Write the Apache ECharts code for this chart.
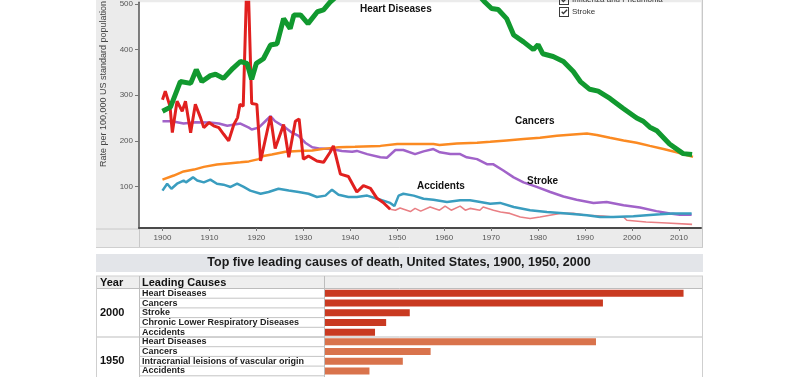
<!DOCTYPE html>
<html>
<head>
<meta charset="utf-8">
<style>
  html, body { margin: 0; padding: 0; background: #fff; }
  #chart { width: 800px; height: 377px; }
</style>
<script src="https://cdn.jsdelivr.net/npm/echarts@6.0.0/dist/echarts.min.js"></script>
</head>
<body>
<div id="chart"></div>
<script>
// rates per 100,000 US standard population, [year, rate]
var heartDiseases = [[1900,265],[1901.7,274],[1903.8,330],[1906,326],[1907.2,356],[1908.4,330],[1910.2,343],[1911.3,346],[1913,337],[1915,359],[1916.6,374],[1918,370],[1919,335],[1920,370],[1921.5,380],[1923,410],[1924.4,413],[1925.8,468],[1927.2,446],[1928,476],[1929.4,476],[1931,457],[1933,483],[1934.3,487],[1935.7,504],[1938,525],[1942,550],[1946,575],[1950,586],[1955,580],[1960,570],[1965,545],[1968.7,504],[1970.1,490],[1971.5,488],[1973.3,468],[1974.8,432],[1976.9,417],[1979,400],[1980,411],[1981,391],[1983.2,385],[1985.4,374],[1987.5,352],[1989,330],[1991,313],[1992.8,309],[1995.3,293],[1998,272],[2001,250],[2002.4,243],[2003.8,230],[2005.3,222],[2008,193],[2010.9,172],[2012.8,170]];
var cancers = [[1900,115],[1902.4,124],[1904.5,133],[1906.7,137],[1908.8,143],[1911.6,148],[1914.5,151],[1916.6,153],[1918.4,155],[1920.5,160],[1921.5,167],[1923.3,170],[1926.2,176],[1929,178],[1931.9,179],[1934.7,183],[1937.5,186],[1941,187],[1946.4,189],[1950,193],[1957.7,193],[1959,191],[1962.7,194],[1967,196],[1969.8,198],[1973.3,201],[1976.9,204],[1980.4,207],[1984,211],[1987.5,214],[1990.4,216],[1992.5,213],[1995.3,207],[1998.2,201],[2001,196],[2003.8,189],[2006.7,182],[2009.5,175],[2011.6,169],[2013,165]];
var stroke = [[1900,243],[1902,243],[1904.5,238],[1907,241],[1910,240],[1912,238],[1913.8,233],[1916.6,238],[1918.4,229],[1919,225],[1920.5,229],[1921.9,243],[1923,254],[1924,243],[1926.2,229],[1927.6,218],[1929,211],[1930.4,196],[1931.9,186],[1933.6,183],[1936,182],[1938.2,178],[1940.4,176],[1941.4,178],[1943.6,171],[1946.4,164],[1947.8,163],[1949.6,180],[1951.3,180],[1953.8,171],[1955.6,177],[1957.7,182],[1959.1,175],[1961.3,171],[1963.4,171],[1964.8,164],[1967,160],[1969.1,149],[1970.4,149],[1972.6,135],[1974.8,120],[1976.9,109],[1979.7,99],[1982.6,88],[1985.4,78],[1988.2,71],[1991.8,64],[1994.6,66],[1998.2,59],[2001.7,54],[2005.2,46],[2008.1,41],[2010.2,38],[2012.7,38]];
var accidents = [[1900,91],[1901,106],[1901.9,95],[1903.1,106],[1904.5,113],[1905,109],[1906.5,120],[1907.4,113],[1908.8,109],[1910.2,115],[1911.6,106],[1913,104],[1914.5,99],[1915.9,106],[1917.3,99],[1918.7,91],[1920.9,84],[1922.6,88],[1924.7,95],[1926.9,91],[1929,88],[1931.1,84],[1932.9,77],[1934.7,80],[1936.1,93],[1937.5,82],[1939.6,77],[1941.4,77],[1943.6,80],[1946.4,71],[1948.5,64],[1949.4,57],[1950.3,80],[1951.3,84],[1953.5,80],[1955.6,73],[1957.7,71],[1960.6,66],[1963.4,70],[1965.5,70],[1967.7,66],[1969.8,62],[1971.9,64],[1974.8,55],[1978.3,48],[1981.9,44],[1986.1,41],[1990.4,37],[1993.2,33],[1996,33],[2000.3,35],[2003.1,37],[2006,39],[2008.8,41],[2012.7,41]];
// influenza and pneumonia: drawn thick red up to 1948, thin pink afterwards
var influenzaEarly = [[1900,290],[1900.6,309],[1901.6,276],[1902.1,218],[1903.1,287],[1904.2,265],[1904.9,287],[1906,218],[1907,280],[1908.1,251],[1908.8,229],[1909.9,240],[1910.9,233],[1912,229],[1913,215],[1914.1,200],[1915.2,236],[1916,251],[1916.5,280],[1917.2,276],[1918.1,600],[1919,282],[1920.1,280],[1920.9,156],[1923,254],[1924,183],[1925.8,236],[1926.9,164],[1928.3,243],[1929.1,248],[1930,160],[1931.1,167],[1932.9,156],[1934.3,153],[1935.7,175],[1936.4,189],[1937.9,127],[1939.6,122],[1941.4,88],[1942.8,102],[1944.3,96],[1945.7,74],[1947,65],[1948.5,50]];
var influenzaLate = [[1948.5,50],[1949.6,48],[1950.6,53],[1952.8,45],[1953.8,52],[1955,46],[1957,55],[1959,48],[1960.2,57],[1961.5,48],[1963.4,57],[1964.5,48],[1965.5,52],[1967.6,48],[1968.3,55],[1970.5,48],[1972,44],[1974,41],[1976.2,33],[1978.3,30],[1980.4,33],[1982.5,37],[1984.7,41],[1987.5,41],[1990.4,37],[1993.8,35],[1996,33],[1998.2,33],[1998.9,26],[2003,22],[2007.4,20],[2012.8,17]];

var yearTicks = [1900, 1910, 1920, 1930, 1940, 1950, 1960, 1970, 1980, 1990, 2000, 2010];
var rateTicks = [100, 200, 300, 400, 500];

// table: top causes per year (bar length in rate units)
var causes2000 = ['Heart Diseases', 'Cancers', 'Stroke', 'Chronic Lower Respiratory Diseases', 'Accidents'];
var rates2000 = [258, 200, 61, 44, 36];
var causes1950 = ['Heart Diseases', 'Cancers', 'Intracranial leisions of vascular origin', 'Accidents'];
var rates1950 = [195, 76, 56, 32];

var checkIcon = 'path://M0,0L10,0L10,10L0,10Z M1,1L1,9L9,9L9,1Z M2.2,5.2L3.2,4.2L4.4,5.6L7.6,2.2L8.6,3.2L4.4,7.6Z';
var fontFam = 'Liberation Sans, Arial, sans-serif';

var tableCauses = causes2000.concat(causes1950);
var tableBars = [];
for (var i = 0; i < rates2000.length; i++) {
    tableBars.push({ value: rates2000[i], itemStyle: { color: '#c93a21' } });
}
for (var j = 0; j < rates1950.length; j++) {
    tableBars.push({ value: rates1950[j], itemStyle: { color: '#d9734c' } });
}

var rowTop = 288.5, rowH = 9.7;
var graphics = [
    // chart panel
    { type: 'rect', z: -10, shape: { x: 96, y: 0, width: 607, height: 248 }, style: { fill: '#ebebeb' } },
    { type: 'line', z: -5, shape: { x1: 96, y1: 229, x2: 139, y2: 229 }, style: { stroke: '#c8c8c8', lineWidth: 1 } },
    { type: 'line', z: -5, shape: { x1: 139.5, y1: 228, x2: 139.5, y2: 248 }, style: { stroke: '#c8c8c8', lineWidth: 1 } },
    { type: 'line', z: -5, shape: { x1: 702.5, y1: 0, x2: 702.5, y2: 248 }, style: { stroke: '#c8c8c8', lineWidth: 1 } },
    { type: 'line', z: -5, shape: { x1: 96, y1: 247.5, x2: 703, y2: 247.5 }, style: { stroke: '#cfcfcf', lineWidth: 1 } },
    { type: 'text', z: 50, rotation: Math.PI / 2, x: 104, y: 84,
      style: { text: 'Rate per 100,000 US standard population', font: '9px ' + fontFam, fill: '#444', align: 'center', verticalAlign: 'middle' } },
    // series annotations
    { type: 'text', z: 50, style: { text: 'Heart Diseases', x: 360, y: 9, font: 'bold 10px ' + fontFam, fill: '#111', verticalAlign: 'middle' } },
    { type: 'text', z: 50, style: { text: 'Cancers', x: 515, y: 121, font: 'bold 10px ' + fontFam, fill: '#111', verticalAlign: 'middle' } },
    { type: 'text', z: 50, style: { text: 'Stroke', x: 527, y: 181, font: 'bold 10px ' + fontFam, fill: '#111', verticalAlign: 'middle' } },
    { type: 'text', z: 50, style: { text: 'Accidents', x: 417, y: 186, font: 'bold 10px ' + fontFam, fill: '#111', verticalAlign: 'middle' } },
    // table
    { type: 'rect', z: -10, shape: { x: 96, y: 254, width: 607, height: 18 }, style: { fill: '#e3e5e9' } },
    { type: 'text', z: 50, style: { text: 'Top five leading causes of death, United States, 1900, 1950, 2000', x: 399, y: 263, font: 'bold 12.5px ' + fontFam, fill: '#1a1a1a', align: 'center', verticalAlign: 'middle' } },
    { type: 'rect', z: -10, shape: { x: 96, y: 276, width: 607, height: 12.5 }, style: { fill: '#eeeeee' } },
    { type: 'line', z: -5, shape: { x1: 96, y1: 276, x2: 703, y2: 276 }, style: { stroke: '#cfcfcf', lineWidth: 1 } },
    { type: 'line', z: -5, shape: { x1: 96, y1: rowTop, x2: 703, y2: rowTop }, style: { stroke: '#bdbdbd', lineWidth: 1 } },
    { type: 'line', z: -5, shape: { x1: 96, y1: rowTop + 5 * rowH, x2: 703, y2: rowTop + 5 * rowH }, style: { stroke: '#bdbdbd', lineWidth: 1 } },
    { type: 'line', z: -5, shape: { x1: 96.5, y1: 276, x2: 96.5, y2: 377 }, style: { stroke: '#cfcfcf', lineWidth: 1 } },
    { type: 'line', z: -5, shape: { x1: 139.5, y1: 276, x2: 139.5, y2: 377 }, style: { stroke: '#bdbdbd', lineWidth: 1 } },
    { type: 'line', z: -5, shape: { x1: 324.5, y1: 276, x2: 324.5, y2: 377 }, style: { stroke: '#bdbdbd', lineWidth: 1 } },
    { type: 'line', z: -5, shape: { x1: 702.5, y1: 276, x2: 702.5, y2: 377 }, style: { stroke: '#cfcfcf', lineWidth: 1 } },
    { type: 'text', z: 50, style: { text: 'Year', x: 100, y: 283, font: 'bold 11px ' + fontFam, fill: '#111', verticalAlign: 'middle' } },
    { type: 'text', z: 50, style: { text: 'Leading Causes', x: 142, y: 283, font: 'bold 11px ' + fontFam, fill: '#111', verticalAlign: 'middle' } },
    { type: 'text', z: 50, style: { text: '2000', x: 100, y: rowTop + 2.5 * rowH, font: 'bold 11px ' + fontFam, fill: '#111', verticalAlign: 'middle' } },
    { type: 'text', z: 50, style: { text: '1950', x: 100, y: rowTop + 7.5 * rowH, font: 'bold 11px ' + fontFam, fill: '#111', verticalAlign: 'middle' } }
];
// row lines of the causes column
for (var r = 1; r < 10; r++) {
    graphics.push({ type: 'line', z: -5, shape: { x1: 139, y1: rowTop + r * rowH, x2: 325, y2: rowTop + r * rowH }, style: { stroke: '#c4c4c4', lineWidth: 1 } });
}

var dom = document.getElementById('chart');
var myChart = echarts.init(dom, null, { renderer: 'canvas' });

var option = {
    animation: false,
    textStyle: { fontFamily: fontFam },
    legend: {
        data: ['Influenza and Pneumonia', 'Stroke'],
        orient: 'vertical',
        left: 554,
        top: -10,
        itemWidth: 10,
        itemHeight: 10,
        itemGap: 2,
        icon: checkIcon,
        itemStyle: { color: '#3a3a3a', borderWidth: 0 },
        lineStyle: { opacity: 0 },
        textStyle: { fontSize: 8, color: '#333', padding: [0, 0, 0, -2] }
    },
    graphic: { elements: graphics },
    grid: [
        { left: 139, top: 0, width: 562, height: 228, show: true, backgroundColor: '#fff', borderWidth: 0 },
        { left: 325, top: rowTop, width: 378, height: 9 * rowH }
    ],
    xAxis: [
        {
            type: 'value', gridIndex: 0, min: 1895, max: 2014.7,
            axisLine: { show: true, lineStyle: { color: '#4a4a4a', width: 2 } },
            axisTick: { show: true, customValues: yearTicks, length: 3, lineStyle: { color: '#777' } },
            axisLabel: { customValues: yearTicks, fontSize: 8, color: '#555', margin: 6,
                         formatter: function (v) { return String(v); } },
            splitLine: { show: false }
        },
        { type: 'value', gridIndex: 1, min: 0, max: 272, show: false }
    ],
    yAxis: [
        {
            type: 'value', gridIndex: 0, min: 9, max: 504,
            axisLine: { show: true, lineStyle: { color: '#555', width: 1.5 } },
            axisTick: { show: true, customValues: rateTicks, length: 4, lineStyle: { color: '#777' } },
            axisLabel: { customValues: rateTicks, fontSize: 8, color: '#555', margin: 6 },
            splitLine: { show: false }
        },
        {
            type: 'category', gridIndex: 1, inverse: true, data: tableCauses,
            axisLine: { show: false }, axisTick: { show: false },
            axisLabel: { interval: 0, align: 'left', margin: 183, fontSize: 9, fontWeight: 'bold', color: '#1e1e1e' }
        }
    ],
    series: [
        { name: 'Heart Diseases', type: 'line', data: heartDiseases, showSymbol: false, symbol: 'none',
          lineStyle: { color: '#11992f', width: 5 }, itemStyle: { color: '#11992f' }, z: 6 },
        { name: 'Cancers', type: 'line', data: cancers, showSymbol: false, symbol: 'none',
          lineStyle: { color: '#fb8a22', width: 2.5 }, itemStyle: { color: '#fb8a22' }, z: 4 },
        { name: 'Stroke', type: 'line', data: stroke, showSymbol: false, symbol: 'none',
          lineStyle: { color: '#a163c9', width: 2.5 }, itemStyle: { color: '#a163c9' }, z: 3 },
        { name: 'Accidents', type: 'line', data: accidents, showSymbol: false, symbol: 'none',
          lineStyle: { color: '#3a9dbf', width: 2.5 }, itemStyle: { color: '#3a9dbf' }, z: 3 },
        { name: 'Influenza and Pneumonia', type: 'line', data: influenzaEarly, showSymbol: false, symbol: 'none',
          lineStyle: { color: '#e1201f', width: 3 }, itemStyle: { color: '#e1201f' }, z: 5 },
        { name: 'Influenza and Pneumonia', type: 'line', data: influenzaLate, showSymbol: false, symbol: 'none',
          lineStyle: { color: '#e97f84', width: 1.6 }, itemStyle: { color: '#e97f84' }, z: 2 },
        { name: 'Leading causes', type: 'bar', xAxisIndex: 1, yAxisIndex: 1, data: tableBars, barWidth: 7 }
    ]
};

if (option && typeof option === 'object') {
    myChart.setOption(option);
}
window.addEventListener('resize', myChart.resize);
</script>
</body>
</html>
